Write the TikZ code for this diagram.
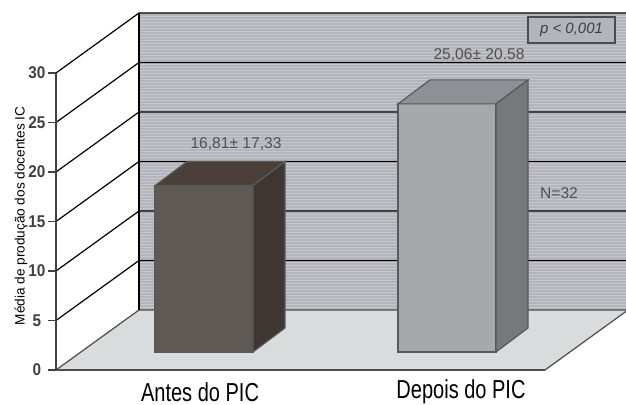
\documentclass[tikz,border=0pt]{standalone}
\usepackage{fontspec}
\setmainfont{Liberation Sans}
\definecolor{wallgray}{HTML}{B2B5BB}
\definecolor{floorgray}{HTML}{DADBDD}
\definecolor{antesfront}{HTML}{5F5A55}
\definecolor{antestop}{HTML}{4A4039}
\definecolor{antesside}{HTML}{3D3632}
\definecolor{depfront}{HTML}{A6A8AC}
\definecolor{deptop}{HTML}{8E9095}
\definecolor{depside}{HTML}{77787B}
\definecolor{txtgray}{HTML}{505050}
% bar: left x, value, front, top, side colour
\newcommand{\colbar}[5]{%
  \pgfmathsetmacro{\yt}{53+9.9*#2}
  \fill[#3,draw=black!65] (#1,53) rectangle (#1+98,\yt);
  \fill[#4,draw=black!65] (#1,\yt) -- ++(32,24) -- (#1+130,\yt+24) -- (#1+98,\yt) -- cycle;
  \fill[#5,draw=black!65] (#1+98,53) -- ++(32,24) -- (#1+130,\yt+24) -- (#1+98,\yt) -- cycle;}

\begin{document}
\begin{tikzpicture}[x=0.5pt,y=0.5pt,semithick]
\useasboundingbox (0,0) rectangle (626,405);
% walls and floor
\fill[white] (56,35) -- (139,95) -- (139,392) -- (56,332) -- cycle;
\fill[wallgray] (139,95) rectangle (626,392);
\foreach \y in {97,100,...,392}
  \draw[white,opacity=.25,line width=.5pt] (139,\y) -- (626,\y);
\fill[floorgray,draw=black!70] (56,35) -- (545,35) -- (628,95) -- (139,95) -- cycle;
\draw[black!70,line width=1pt] (56,35) -- (545,35);
% grid lines and ticks
\foreach \v in {5,10,...,30}
  \draw (56,35+9.9*\v) -- ++(83,60) -- (626,95+9.9*\v);
\draw (139,95) -- (139,392);
\draw[black!75,line width=1pt] (56,35) -- (56,332);
\foreach \v in {0,5,...,30}{
  \draw[black!75] (48,35+9.9*\v) -- (56,35+9.9*\v);
  \node[font=\fontsize{8.5}{9}\selectfont\bfseries,text=black!75,xscale=.9] (t\v) at (37,35+9.9*\v) {\v};}
% bars
\colbar{155}{16.81}{antesfront}{antestop}{antesside}
\colbar{398}{25.06}{depfront}{deptop}{depside}
% labels
\node[font=\fontsize{7.8}{9}\selectfont,text=txtgray] (va) at (236,261) {16,81± 17,33};
\node[font=\fontsize{7.8}{9}\selectfont,text=txtgray] (vd) at (479,350) {25,06± 20.58};
\node[font=\fontsize{7.8}{9}\selectfont,text=txtgray] (n) at (559,212) {N=32};
\node[draw=black!70,fill=wallgray,minimum width=43.5pt,minimum height=13pt,inner sep=0pt,
  font=\fontsize{7.5}{8}\selectfont\itshape,text=black!75] (p) at (571.5,375) {p < 0,001};
\node[font=\fontsize{6.8}{8}\selectfont,rotate=90] (ylab) at (21,189) {Média de produção dos docentes IC};
\node[font=\fontsize{13}{15}\selectfont,xscale=.77] (ca) at (200,13) {Antes do PIC};
\node[font=\fontsize{13}{15}\selectfont,xscale=.77] (cd) at (461,13) {Depois do PIC};
\end{tikzpicture}
\end{document}
